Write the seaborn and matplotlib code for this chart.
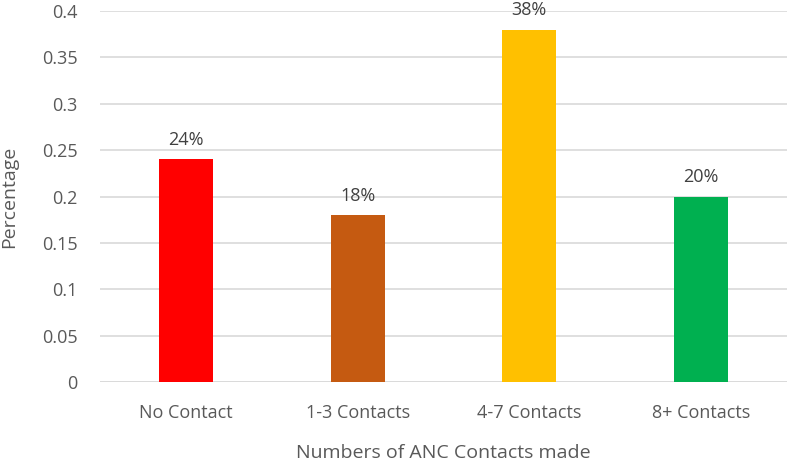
import matplotlib
matplotlib.use("Agg")
import matplotlib.pyplot as plt
import seaborn as sns
import pandas as pd

# Data
categories = ['No Contact', '1-3 Contacts', '4-7 Contacts', '8+ Contacts']
values = [0.24, 0.18, 0.38, 0.20]
labels = ['24%', '18%', '38%', '20%']
colors = ['#FF0000', '#C55A11', '#FFC000', '#00B050']

df = pd.DataFrame({'Category': categories, 'Percentage': values})

sns.set_style('white')
plt.rcParams['font.family'] = ['Open Sans', 'DejaVu Sans']
text_color = '#595959'

fig = plt.figure(figsize=(7.87, 4.62), dpi=100)
ax = fig.add_axes([100 / 787, 1 - 382 / 462, 687 / 787, 371 / 462])

sns.barplot(data=df, x='Category', y='Percentage', hue='Category',
            palette=colors, width=0.315, saturation=1, linewidth=0,
            legend=False, ax=ax, zorder=3)

ax.set_ylim(0, 0.4)
ax.set_yticks([0, 0.05, 0.1, 0.15, 0.2, 0.25, 0.3, 0.35, 0.4])
ax.set_yticklabels(['0', '0.05', '0.1', '0.15', '0.2', '0.25', '0.3', '0.35', '0.4'])
ax.yaxis.grid(True, color='#D9D9D9', linewidth=1.2, zorder=0)
ax.set_axisbelow(True)
for s in ax.spines.values():
    s.set_visible(False)
ax.axhline(0, color='#D9D9D9', linewidth=1.2, zorder=1)
ax.set_xlim(-0.5, 3.5)
ax.tick_params(axis='both', length=0, labelsize=13, colors=text_color)
ax.tick_params(axis='x', pad=16)
ax.tick_params(axis='y', pad=16)

for i, (v, lab) in enumerate(zip(values, labels)):
    ax.annotate(lab, (i, v), xytext=(0, 14), textcoords='offset points',
                ha='center', va='center', fontsize=13, color='#404040',
                annotation_clip=False)

ax.set_xlabel('Numbers of ANC Contacts made', fontsize=14, color=text_color, labelpad=16)
ax.set_ylabel('Percentage', fontsize=14, color=text_color, labelpad=17)

fig.savefig('out.png', dpi=100)
